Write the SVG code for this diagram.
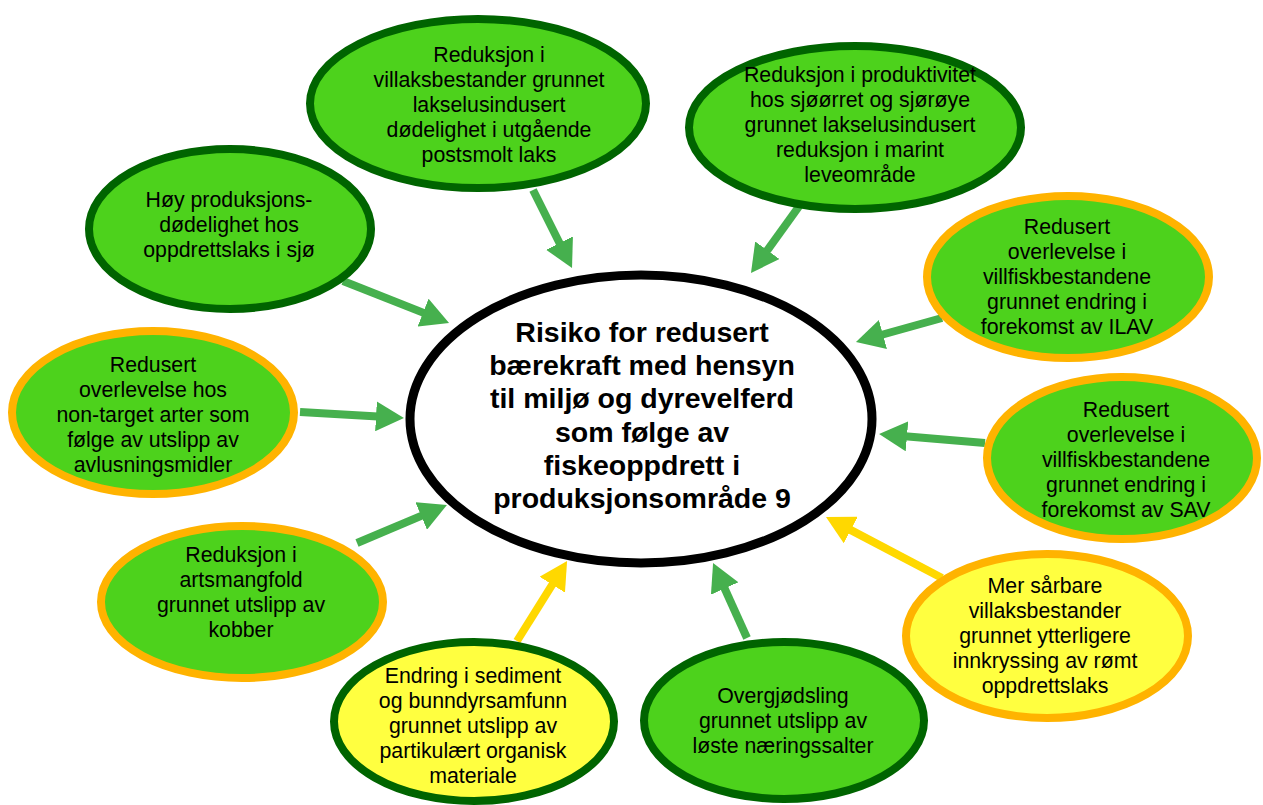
<svg xmlns="http://www.w3.org/2000/svg" width="1263" height="805" viewBox="0 0 1263 805">
<style>
  .lbl { font-family: "Liberation Sans", Arial, sans-serif; font-size: 21.3px; fill: #000; text-anchor: middle; }
  .ttl { font-family: "Liberation Sans", Arial, sans-serif; font-size: 28.5px; font-weight: bold; fill: #000; text-anchor: middle; }
  .gg { fill: #4DD21C; stroke: #006400; stroke-width: 8; }
  .go { fill: #4DD21C; stroke: #FFB300; stroke-width: 8; }
  .yg { fill: #FFFF40; stroke: #006400; stroke-width: 8; }
  .yo { fill: #FFFF40; stroke: #FFB300; stroke-width: 8; }
  .cg { stroke: #46B04E; stroke-width: 8; fill: none; marker-end: url(#ag); }
  .cy { stroke: #FFD800; stroke-width: 8; fill: none; marker-end: url(#ay); }
</style>
<defs>
  <marker id="ag" markerUnits="userSpaceOnUse" viewBox="0 -15 28 30" markerWidth="28" markerHeight="30" refX="2" refY="0" orient="auto">
    <path d="M0,-15 L28,0 L0,15 z" fill="#46B04E"/>
  </marker>
  <marker id="ay" markerUnits="userSpaceOnUse" viewBox="0 -15 28 30" markerWidth="28" markerHeight="30" refX="2" refY="0" orient="auto">
    <path d="M0,-15 L28,0 L0,15 z" fill="#FFD800"/>
  </marker>
</defs>
<rect width="1263" height="805" fill="#fff"/>
<g id="connectors">
  <line class="cg" x1="533" y1="190" x2="560.4" y2="244.8"/>
  <line class="cg" x1="800" y1="205" x2="766.2" y2="251.9"/>
  <line class="cg" x1="343" y1="281" x2="424.9" y2="313.4"/>
  <line class="cg" x1="942" y1="318" x2="881" y2="335"/>
  <line class="cg" x1="300" y1="412" x2="378" y2="416.5"/>
  <line class="cg" x1="985" y1="443" x2="905" y2="436.2"/>
  <line class="cg" x1="357" y1="543" x2="423" y2="515.1"/>
  <line class="cy" x1="517" y1="641" x2="553.3" y2="583"/>
  <line class="cg" x1="747" y1="638" x2="723.8" y2="586.7"/>
  <line class="cy" x1="942" y1="578" x2="849" y2="529.1"/>
</g>
<g id="center">
  <ellipse cx="641" cy="419" rx="231" ry="144" fill="#fff" stroke="#000" stroke-width="9"/>
  <text class="ttl" x="642" y="342">Risiko for redusert</text>
  <text class="ttl" x="642" y="375">bærekraft med hensyn</text>
  <text class="ttl" x="642" y="408">til miljø og dyrevelferd</text>
  <text class="ttl" x="642" y="442">som følge av</text>
  <text class="ttl" x="642" y="475">fiskeoppdrett i</text>
  <text class="ttl" x="642" y="508">produksjonsområde 9</text>
</g>
<g id="n-villaks">
  <ellipse class="gg" cx="478" cy="103.5" rx="168" ry="84.5"/>
  <text class="lbl" x="489" y="62">Reduksjon i</text>
  <text class="lbl" x="489" y="87">villaksbestander grunnet</text>
  <text class="lbl" x="489" y="112">lakselusindusert</text>
  <text class="lbl" x="489" y="137">dødelighet i utgående</text>
  <text class="lbl" x="489" y="162">postsmolt laks</text>
</g>
<g id="n-sjoorret">
  <ellipse class="gg" cx="855" cy="127.5" rx="166" ry="81.5"/>
  <text class="lbl" x="860" y="82">Reduksjon i produktivitet</text>
  <text class="lbl" x="860" y="107">hos sjøørret og sjørøye</text>
  <text class="lbl" x="860" y="132">grunnet lakselusindusert</text>
  <text class="lbl" x="860" y="157">reduksjon i marint</text>
  <text class="lbl" x="860" y="182">leveområde</text>
</g>
<g id="n-hoy">
  <ellipse class="gg" cx="230" cy="229" rx="141" ry="80"/>
  <text class="lbl" x="229" y="207">Høy produksjons-</text>
  <text class="lbl" x="229" y="232">dødelighet hos</text>
  <text class="lbl" x="229" y="257">oppdrettslaks i sjø</text>
</g>
<g id="n-ilav">
  <ellipse class="go" cx="1068" cy="277" rx="141" ry="81"/>
  <text class="lbl" x="1067" y="234">Redusert</text>
  <text class="lbl" x="1067" y="259">overlevelse i</text>
  <text class="lbl" x="1067" y="284">villfiskbestandene</text>
  <text class="lbl" x="1067" y="309">grunnet endring i</text>
  <text class="lbl" x="1067" y="334">forekomst av ILAV</text>
</g>
<g id="n-nontarget">
  <ellipse class="go" cx="153" cy="412.5" rx="141" ry="81.5"/>
  <text class="lbl" x="153" y="372">Redusert</text>
  <text class="lbl" x="153" y="397">overlevelse hos</text>
  <text class="lbl" x="153" y="422">non-target arter som</text>
  <text class="lbl" x="153" y="447">følge av utslipp av</text>
  <text class="lbl" x="153" y="472">avlusningsmidler</text>
</g>
<g id="n-sav">
  <ellipse class="go" cx="1122" cy="458" rx="135" ry="81"/>
  <text class="lbl" x="1126" y="417">Redusert</text>
  <text class="lbl" x="1126" y="442">overlevelse i</text>
  <text class="lbl" x="1126" y="467">villfiskbestandene</text>
  <text class="lbl" x="1126" y="492">grunnet endring i</text>
  <text class="lbl" x="1126" y="517">forekomst av SAV</text>
</g>
<g id="n-kobber">
  <ellipse class="go" cx="242" cy="602" rx="141" ry="76"/>
  <text class="lbl" x="241" y="562">Reduksjon i</text>
  <text class="lbl" x="241" y="587">artsmangfold</text>
  <text class="lbl" x="241" y="612">grunnet utslipp av</text>
  <text class="lbl" x="241" y="637">kobber</text>
</g>
<g id="n-rommt">
  <ellipse class="yo" cx="1047" cy="636" rx="141" ry="82"/>
  <text class="lbl" x="1045" y="593">Mer sårbare</text>
  <text class="lbl" x="1045" y="618">villaksbestander</text>
  <text class="lbl" x="1045" y="643">grunnet ytterligere</text>
  <text class="lbl" x="1045" y="668">innkryssing av rømt</text>
  <text class="lbl" x="1045" y="693">oppdrettslaks</text>
</g>
<g id="n-sediment">
  <ellipse class="yg" cx="474" cy="721.5" rx="140" ry="79.5"/>
  <text class="lbl" x="473" y="683">Endring i sediment</text>
  <text class="lbl" x="473" y="708">og bunndyrsamfunn</text>
  <text class="lbl" x="473" y="733">grunnet utslipp av</text>
  <text class="lbl" x="473" y="758">partikulært organisk</text>
  <text class="lbl" x="473" y="783">materiale</text>
</g>
<g id="n-overgjodsling">
  <ellipse class="gg" cx="784" cy="720.5" rx="140" ry="78.5"/>
  <text class="lbl" x="783" y="703">Overgjødsling</text>
  <text class="lbl" x="783" y="728">grunnet utslipp av</text>
  <text class="lbl" x="783" y="753">løste næringssalter</text>
</g>
</svg>
